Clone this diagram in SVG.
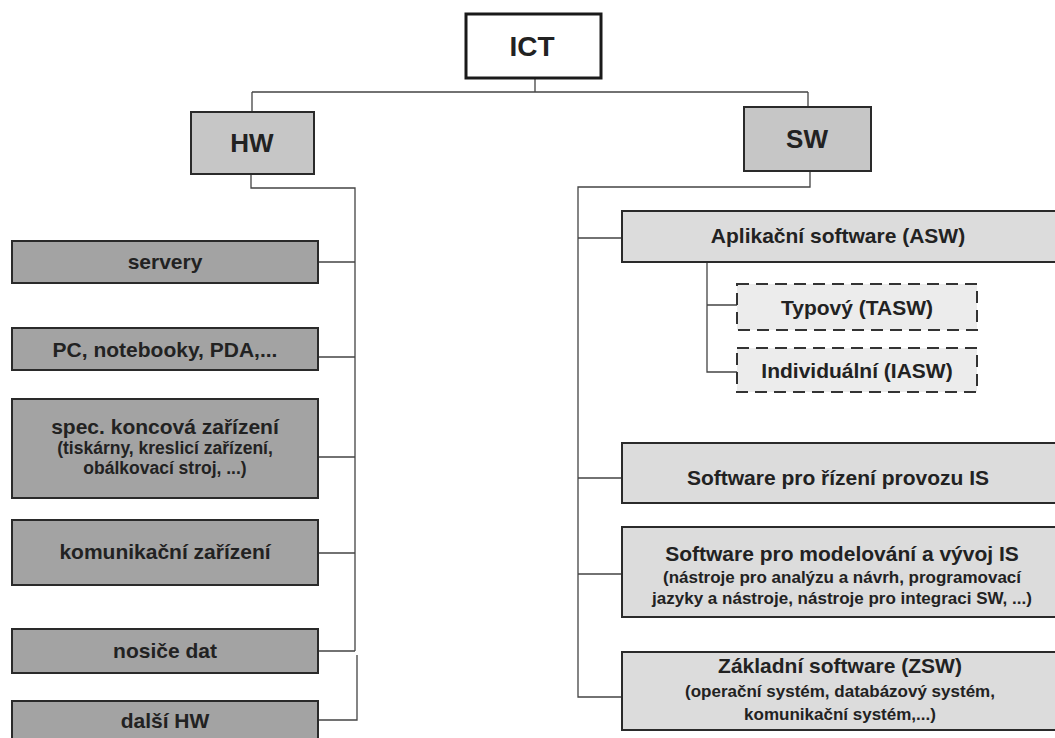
<svg xmlns="http://www.w3.org/2000/svg" width="1055" height="738" viewBox="0 0 1055 738">
<style>
text{font-family:"Liberation Sans",Arial,sans-serif;font-weight:bold;fill:#222;text-anchor:middle}
.box{stroke:#2a2a2a;stroke-width:2}
.top{fill:#fff;stroke:#1a1a1a;stroke-width:3}
.mid{fill:#c6c6c6}
.hw{fill:#a3a3a3}
.sw{fill:#dcdcdc}
.dash{fill:#ececec;stroke:#333;stroke-width:2;stroke-dasharray:12 7}
.big{font-size:26px}
.lab{font-size:21px}
.sub{font-size:17px}
.hsub{font-size:17.5px}
.conn{fill:none;stroke:#444;stroke-width:1.3}
</style>
<rect width="1055" height="738" fill="#fff"/>
<g id="connectors" class="conn">
<path d="M535 78V92M252 92H808M252 92V112M808 92V107"/>
<path d="M251 174V188H355V651M318 262H355M318 357H355M318 457H355M318 553H355M318 651H355"/>
<path d="M357 655V720H318"/>
<path d="M810 171V187H578V697H622M578 238H622M578 478H622M578 574H622"/>
<path d="M707 262V372H737M707 305H737"/>
</g>
<g id="ict"><rect class="top" x="466" y="14" width="135" height="64"/><text x="532" y="56" style="font-size:28px">ICT</text></g>
<g id="hw"><rect class="box mid" x="191" y="112" width="123" height="62"/><text class="big" x="252" y="152">HW</text></g>
<g id="sw"><rect class="box mid" x="744" y="107" width="127" height="64"/><text class="big" x="807" y="148">SW</text></g>
<g id="servery"><rect class="box hw" x="12" y="241" width="306" height="42"/><text class="lab" x="165" y="269">servery</text></g>
<g id="pc"><rect class="box hw" x="12" y="328" width="306" height="42"/><text class="lab" x="165" y="357">PC, notebooky, PDA,...</text></g>
<g id="spec"><rect class="box hw" x="12" y="399" width="306" height="99"/><text class="lab" x="165" y="434">spec. koncová zařízení</text><text class="hsub" x="165" y="454">(tiskárny, kreslicí zařízení,</text><text class="hsub" x="165" y="474">obálkovací stroj, ...)</text></g>
<g id="komunikacni"><rect class="box hw" x="12" y="520" width="306" height="65"/><text class="lab" x="165" y="559">komunikační zařízení</text></g>
<g id="nosice"><rect class="box hw" x="12" y="629" width="306" height="44"/><text class="lab" x="165" y="658">nosiče dat</text></g>
<g id="dalsi"><rect class="box hw" x="12" y="701" width="306" height="44"/><text class="lab" x="165" y="728">další HW</text></g>
<g id="asw"><rect class="box sw" x="622" y="211" width="440" height="51"/><text class="lab" x="838" y="243">Aplikační software (ASW)</text></g>
<g id="tasw"><rect class="dash" x="737" y="284" width="240" height="46"/><text class="lab" x="857" y="315">Typový (TASW)</text></g>
<g id="iasw"><rect class="dash" x="737" y="348" width="240" height="44"/><text class="lab" x="857" y="378">Individuální (IASW)</text></g>
<g id="rizeni"><rect class="box sw" x="622" y="443" width="440" height="60"/><text class="lab" x="838" y="485">Software pro řízení provozu IS</text></g>
<g id="modelovani"><rect class="box sw" x="622" y="527" width="440" height="90"/><text class="lab" x="842" y="561">Software pro modelování a vývoj IS</text><text class="sub" x="842" y="583">(nástroje pro analýzu a návrh, programovací</text><text class="sub" x="842" y="604">jazyky a nástroje, nástroje pro integraci SW, ...)</text></g>
<g id="zakladni"><rect class="box sw" x="622" y="652" width="440" height="78"/><text class="lab" x="840" y="673">Základní software (ZSW)</text><text class="sub" x="840" y="697">(operační systém, databázový systém,</text><text class="sub" x="840" y="720">komunikační systém,...)</text></g>
</svg>
